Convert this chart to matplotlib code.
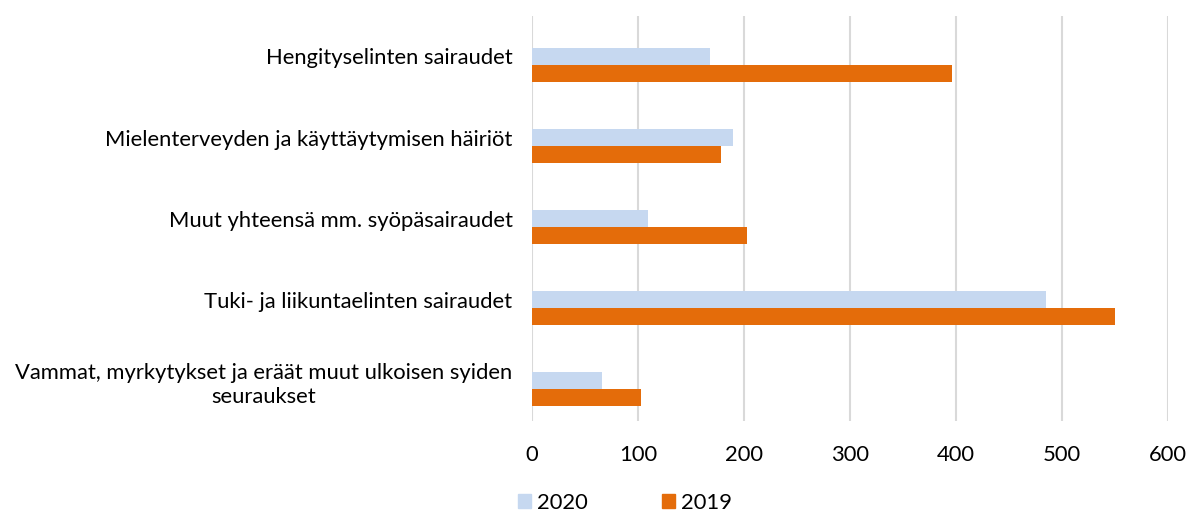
import numpy as np
import matplotlib.pyplot as plt
from matplotlib.patches import Patch

plt.rcParams['font.family'] = ['Lato', 'DejaVu Sans']

# data (categories top to bottom)
categories = ['Hengityselinten sairaudet',
              'Mielenterveyden ja käyttäytymisen häiriöt',
              'Muut yhteensä mm. syöpäsairaudet',
              'Tuki- ja liikuntaelinten sairaudet',
              'Vammat, myrkytykset ja eräät muut ulkoisen syiden\nseuraukset']
v2020 = [168, 190, 109, 485, 66]
v2019 = [396, 178, 203, 550, 103]
xticks = [0, 100, 200, 300, 400, 500, 600]

c2020 = '#C6D8F0'
c2019 = '#E46C0A'
fs = 15.8

fig = plt.figure(figsize=(11.87, 5.11), dpi=100)
ax = fig.add_axes([532/1187, (511-421)/511, (1168-532)/1187, 405/511])

y = np.arange(len(categories))
h = 0.21
ax.barh(y - h/2, v2020, height=h, color=c2020, zorder=3)
ax.barh(y + h/2, v2019, height=h, color=c2019, zorder=3)

ax.set_xlim(0, 600)
ax.set_ylim(4.395, -0.605)
ax.set_xticks(xticks)
ax.set_xticklabels([str(t) for t in xticks], fontsize=fs, color='#000000')
# labels sit at the category band centre (slightly above the bar pair)
ax.set_yticks(y - 0.105)
ax.set_yticklabels(categories, fontsize=fs, color='#000000', ha='right',
                   multialignment='center', linespacing=1.25)
ax.tick_params(axis='both', length=0)
ax.tick_params(axis='x', pad=17)
ax.tick_params(axis='y', pad=14)
ax.xaxis.grid(True, color='#D9D9D9', linewidth=1.5, zorder=0)
for s in ax.spines.values():
    s.set_visible(False)

handles = [Patch(color=c2020, label='2020'), Patch(color=c2019, label='2019')]
fig.legend(handles=handles, loc='center', bbox_to_anchor=(625/1187, 1 - 503/511),
           ncol=2, frameon=False, fontsize=fs, handlelength=0.6, handleheight=0.6,
           handletextpad=0.25, columnspacing=3.4, borderpad=0)

plt.savefig('out.png', dpi=100)
